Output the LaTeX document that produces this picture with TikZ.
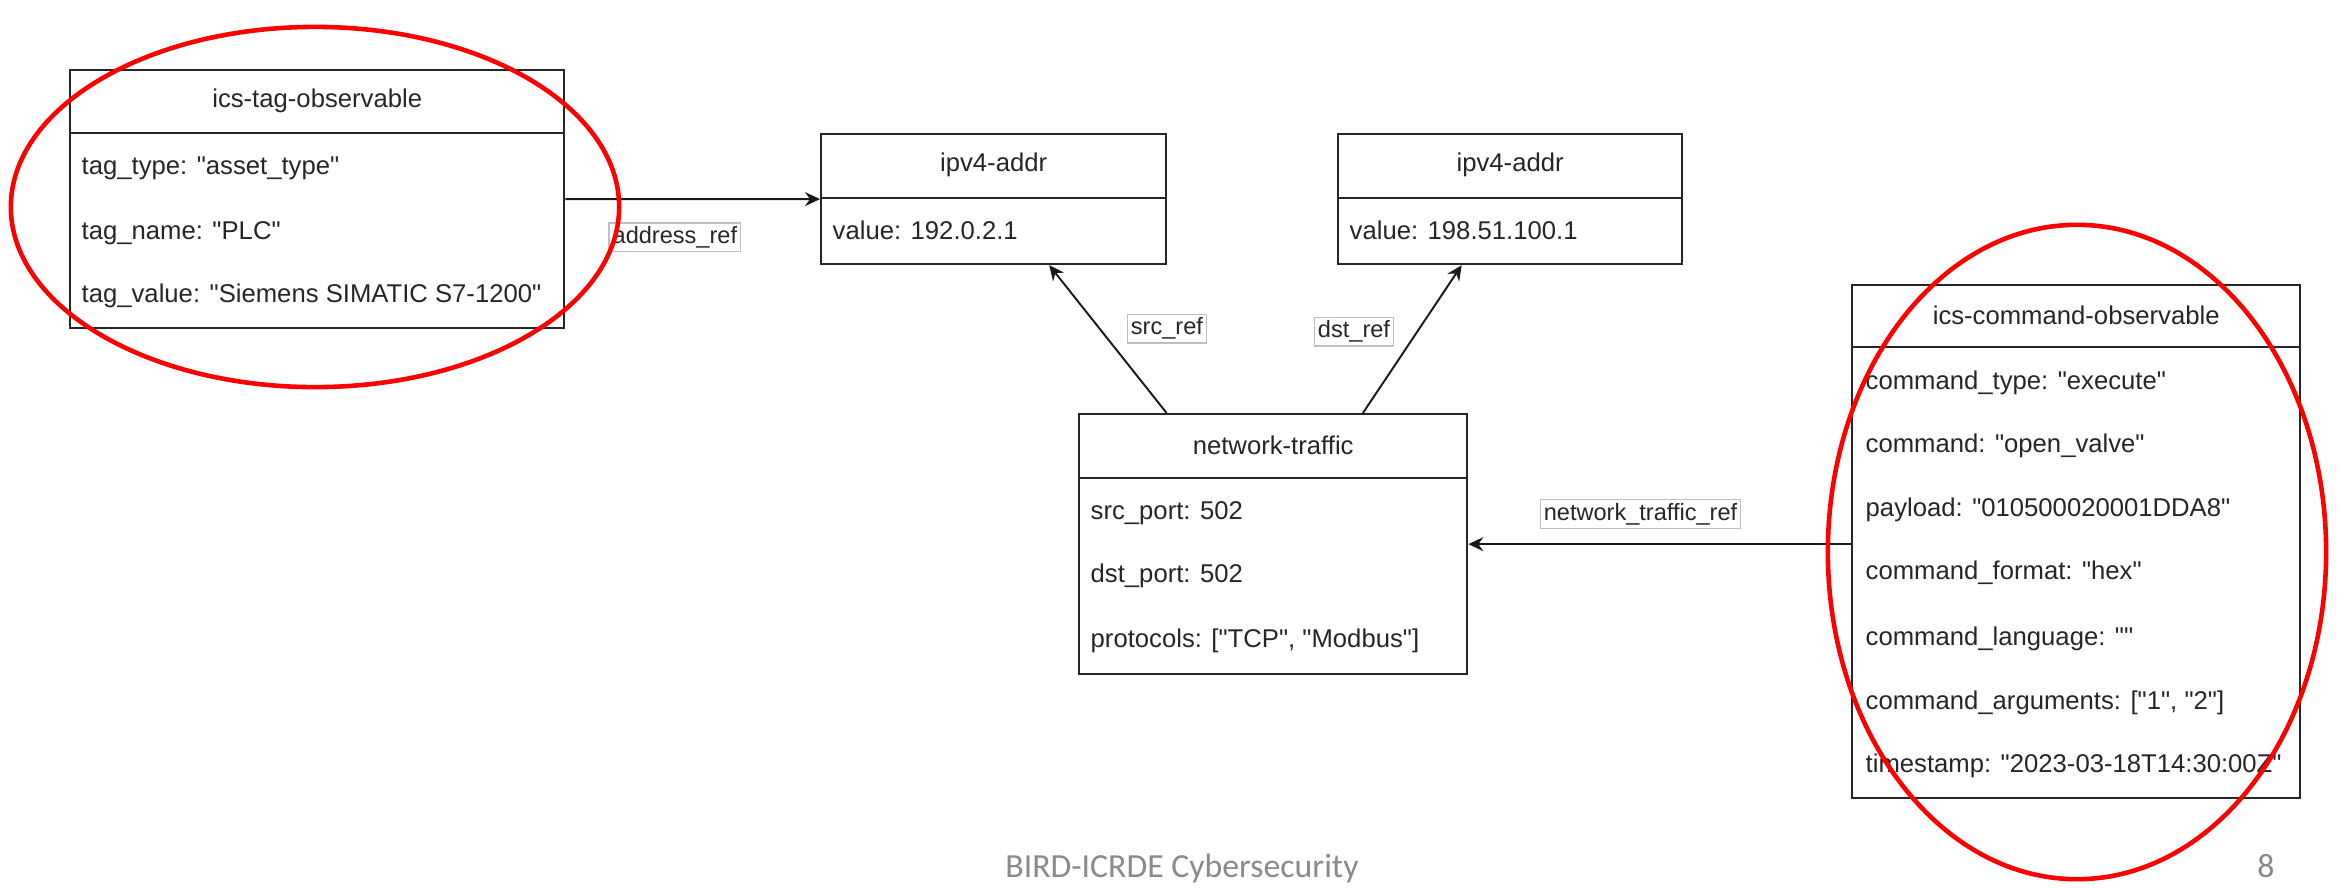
\documentclass[tikz,border=0pt]{standalone}
\usepackage{fontspec}
\setmainfont{Liberation Sans}[Ligatures=TeXOff]
\newfontfamily\footfont{Carlito}
\usetikzlibrary{positioning,calc,arrows.meta,shapes.geometric}

\tikzset{
  objbox/.style={draw=black!85, line width=0.6pt, anchor=north west, inner sep=0pt},
  boxtitle/.style={text=black!85, inner sep=0pt, font=\fontsize{7.3}{8.8}\selectfont},
  attr/.style={anchor=base west, inner sep=0pt, text=black!85, font=\fontsize{7.3}{8.8}\selectfont},
  lbl/.style={draw=black!25, fill=white, inner sep=1pt, line width=0.4pt, text=black!85, font=\fontsize{6.7}{8}\selectfont},
  refarrow/.style={draw=black!90, line width=0.55pt, -{Stealth[length=1.5mm,width=1.4mm,inset=0.5mm]}},
  ring/.style={ellipse, draw=red, line width=1.3pt, inner sep=0pt},
  hline/.style={draw=black!85, line width=0.6pt},
  foottext/.style={anchor=base, inner sep=0pt, text=black!46, font=\footfont\fontsize{9.6}{11}\selectfont}
}

\begin{document}
\begin{tikzpicture}[x=0.01cm,y=-0.01cm]
  \useasboundingbox (0,0) rectangle (2338,887);

  % object boxes
  \node[objbox, minimum width=4.94cm, minimum height=2.58cm] (tag) at (69,69) {};
  \node[objbox, minimum width=3.45cm, minimum height=1.30cm] (srcip) at (820,133) {};
  \node[objbox, minimum width=3.44cm, minimum height=1.30cm] (dstip) at (1337,133) {};
  \node[objbox, minimum width=3.88cm, minimum height=2.60cm] (nt) at (1078,413) {};
  \node[objbox, minimum width=4.48cm, minimum height=5.13cm] (cmd) at (1851,284) {};

  % header separators
  \draw[hline] ([yshift=-0.64cm]tag.north west) -- ([yshift=-0.64cm]tag.north east);
  \draw[hline] ([yshift=-0.65cm]srcip.north west) -- ([yshift=-0.65cm]srcip.north east);
  \draw[hline] ([yshift=-0.65cm]dstip.north west) -- ([yshift=-0.65cm]dstip.north east);
  \draw[hline] ([yshift=-0.65cm]nt.north west) -- ([yshift=-0.65cm]nt.north east);
  \draw[hline] ([yshift=-0.63cm]cmd.north west) -- ([yshift=-0.63cm]cmd.north east);

  % titles
  \node[boxtitle] (tagt) at ([yshift=-0.32cm]tag.north) {ics-tag-observable};
  \node[boxtitle] (srcipt) at ([yshift=-0.32cm]srcip.north) {ipv4-addr};
  \node[boxtitle] (dstipt) at ([yshift=-0.32cm]dstip.north) {ipv4-addr};
  \node[boxtitle] (ntt) at ([yshift=-0.32cm]nt.north) {network-traffic};
  \node[boxtitle] (cmdt) at ([yshift=-0.31cm]cmd.north) {ics-command-observable};

  % attributes
  \node[attr] (tag1) at (81,174) {tag\_type: "asset\_type"};
  \node[attr] (tag2) at (81,239) {tag\_name: "PLC"};
  \node[attr] (tag3) at (81,302) {tag\_value: "Siemens SIMATIC S7-1200"};

  \node[attr] (srcip1) at (832,239) {value: 192.0.2.1};
  \node[attr] (dstip1) at (1349,239) {value: 198.51.100.1};

  \node[attr] (nt1) at (1090,519) {src\_port: 502};
  \node[attr] (nt2) at (1090,582) {dst\_port: 502};
  \node[attr] (nt3) at (1090,647) {protocols: ["TCP", "Modbus"]};

  \node[attr] (cmd1) at (1865,389) {command\_type: "execute"};
  \node[attr] (cmd2) at (1865,452) {command: "open\_valve"};
  \node[attr] (cmd3) at (1865,516) {payload: "010500020001DDA8"};
  \node[attr] (cmd4) at (1865,579) {command\_format: "hex"};
  \node[attr] (cmd5) at (1865,645) {command\_language: ""};
  \node[attr] (cmd6) at (1865,709) {command\_arguments: ["1", "2"]};
  \node[attr] (cmd7) at (1865,772) {timestamp: "2023-03-18T14:30:00Z"};

  % references
  \draw[refarrow] (tag.east) -- node[lbl, pos=0.43, below=0.23cm] (addrlbl) {address\_ref} (srcip.west);
  \draw[refarrow] ($(nt.north west)!0.227!(nt.north east)$)
    -- node[lbl, pos=0.57, right=0.27cm] (srclbl) {src\_ref} ($(srcip.south west)!0.66!(srcip.south east)$);
  \draw[refarrow] ($(nt.north west)!0.73!(nt.north east)$)
    -- node[lbl, pos=0.55, left=0.23cm] (dstlbl) {dst\_ref} ($(dstip.south west)!0.36!(dstip.south east)$);
  \draw[refarrow] (cmd.west |- nt.east) -- node[lbl, pos=0.55, above=0.15cm] (ntlbl) {network\_traffic\_ref} (nt.east);

  % highlight rings
  \node[ring, minimum width=6.08cm, minimum height=3.60cm] (ring1) at (315,207) {};
  \node[ring, minimum width=4.98cm, minimum height=6.54cm] (ring2) at (2077,552) {};

  % footer
  \node[foottext] (foot) at (1182,877) {BIRD-ICRDE Cybersecurity};
  \node[foottext] (page) at (2266,877) {8};
\end{tikzpicture}
\end{document}
